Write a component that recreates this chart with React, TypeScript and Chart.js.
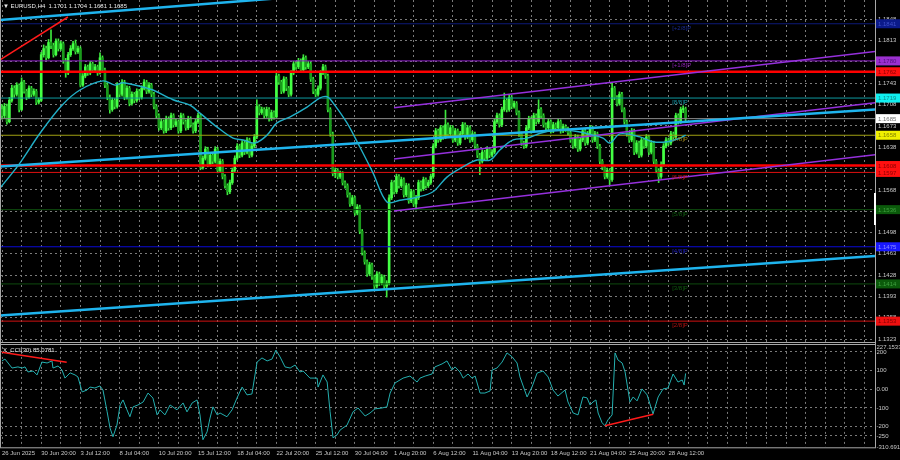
import React, { useEffect, useRef } from 'react';
import { Chart, registerables } from 'chart.js';

Chart.register(...registerables);

// ---------- data ----------
const dateLabels = ['26 Jun 2025', '30 Jun 20:00', '3 Jul 12:00', '8 Jul 04:00', '10 Jul 20:00', '15 Jul 12:00', '18 Jul 04:00', '22 Jul 20:00', '25 Jul 12:00', '30 Jul 04:00', '1 Aug 20:00', '6 Aug 12:00', '11 Aug 04:00', '13 Aug 20:00', '18 Aug 12:00', '21 Aug 04:00', '25 Aug 20:00', '28 Aug 12:00'];
const barsPerLabel = 16;
const barsPerGrid = 8;

const priceTicks = [1.1323, 1.1358, 1.1393, 1.1428, 1.1463, 1.1498, 1.1533, 1.1568, 1.1603, 1.1638, 1.1673, 1.1708, 1.1743, 1.1778, 1.1813, 1.1848];
const cciTicks = [-310.691, -250, -200, -100, 0, 100, 200, 227.1533];

// H4 candles [open, high, low, close]
const candles = [
  [1.1700,1.1708,1.1684,1.1690],[1.1690,1.1710,1.1686,1.1705],[1.1705,1.1709,1.1676,1.1680],[1.1680,1.1720,1.1678,1.1715],[1.1715,1.1740,1.1712,1.1735],
  [1.1735,1.1739,1.1720,1.1725],[1.1725,1.1744,1.1722,1.1740],[1.1740,1.1742,1.1696,1.1700],[1.1700,1.1752,1.1698,1.1745],[1.1745,1.1748,1.1727,1.1730],
  [1.1730,1.1733,1.1716,1.1720],[1.1720,1.1739,1.1718,1.1735],[1.1735,1.1738,1.1721,1.1725],[1.1725,1.1734,1.1722,1.1730],[1.1730,1.1733,1.1708,1.1712],
  [1.1712,1.1719,1.1709,1.1715],[1.1715,1.1794,1.1713,1.1790],[1.1790,1.1806,1.1786,1.1800],[1.1800,1.1804,1.1781,1.1785],[1.1785,1.1815,1.1783,1.1810],
  [1.1810,1.1831,1.1800,1.1805],[1.1805,1.1809,1.1786,1.1790],[1.1790,1.1816,1.1788,1.1812],[1.1812,1.1816,1.1796,1.1800],[1.1800,1.1812,1.1797,1.1808],
  [1.1808,1.1811,1.1776,1.1780],[1.1780,1.1784,1.1753,1.1760],[1.1760,1.1794,1.1757,1.1790],[1.1790,1.1805,1.1787,1.1800],[1.1800,1.1812,1.1797,1.1808],
  [1.1808,1.1814,1.1791,1.1795],[1.1795,1.1804,1.1792,1.1800],[1.1800,1.1803,1.1737,1.1740],[1.1740,1.1759,1.1738,1.1755],[1.1755,1.1774,1.1752,1.1770],
  [1.1770,1.1773,1.1756,1.1760],[1.1760,1.1779,1.1757,1.1775],[1.1775,1.1778,1.1761,1.1765],[1.1765,1.1774,1.1762,1.1770],[1.1770,1.1773,1.1756,1.1760],
  [1.1760,1.1793,1.1758,1.1785],[1.1785,1.1788,1.1761,1.1765],[1.1765,1.1768,1.1736,1.1740],[1.1740,1.1744,1.1716,1.1720],[1.1720,1.1724,1.1694,1.1700],
  [1.1700,1.1719,1.1697,1.1715],[1.1715,1.1718,1.1701,1.1705],[1.1705,1.1744,1.1702,1.1740],[1.1740,1.1743,1.1721,1.1725],[1.1725,1.1749,1.1722,1.1745],
  [1.1745,1.1748,1.1716,1.1720],[1.1720,1.1739,1.1717,1.1735],[1.1735,1.1738,1.1706,1.1710],[1.1710,1.1729,1.1707,1.1725],[1.1725,1.1728,1.1711,1.1715],
  [1.1715,1.1734,1.1712,1.1730],[1.1730,1.1733,1.1716,1.1720],[1.1720,1.1739,1.1717,1.1735],[1.1735,1.1749,1.1732,1.1745],[1.1745,1.1748,1.1726,1.1730],
  [1.1730,1.1744,1.1727,1.1740],[1.1740,1.1743,1.1721,1.1725],[1.1725,1.1728,1.1701,1.1705],[1.1705,1.1708,1.1686,1.1690],[1.1690,1.1693,1.1666,1.1670],
  [1.1670,1.1684,1.1667,1.1680],[1.1680,1.1683,1.1661,1.1665],[1.1665,1.1689,1.1662,1.1685],[1.1685,1.1688,1.1666,1.1670],[1.1670,1.1694,1.1667,1.1690],
  [1.1690,1.1693,1.1671,1.1675],[1.1675,1.1684,1.1672,1.1680],[1.1680,1.1683,1.1661,1.1665],[1.1665,1.1694,1.1662,1.1690],[1.1690,1.1693,1.1676,1.1680],
  [1.1680,1.1683,1.1666,1.1670],[1.1670,1.1689,1.1667,1.1685],[1.1685,1.1688,1.1671,1.1675],[1.1675,1.1678,1.1661,1.1665],[1.1665,1.1684,1.1662,1.1680],
  [1.1680,1.1694,1.1677,1.1690],[1.1690,1.1693,1.1601,1.1605],[1.1605,1.1624,1.1602,1.1620],[1.1620,1.1639,1.1617,1.1635],[1.1635,1.1638,1.1606,1.1610],
  [1.1610,1.1629,1.1607,1.1625],[1.1625,1.1628,1.1611,1.1615],[1.1615,1.1639,1.1612,1.1635],[1.1635,1.1638,1.1596,1.1600],[1.1600,1.1619,1.1597,1.1615],
  [1.1615,1.1618,1.1586,1.1590],[1.1590,1.1593,1.1571,1.1575],[1.1575,1.1578,1.1560,1.1565],[1.1565,1.1584,1.1562,1.1580],[1.1580,1.1604,1.1577,1.1600],
  [1.1600,1.1624,1.1597,1.1620],[1.1620,1.1644,1.1617,1.1640],[1.1640,1.1643,1.1621,1.1625],[1.1625,1.1649,1.1622,1.1645],[1.1645,1.1648,1.1626,1.1630],
  [1.1630,1.1654,1.1627,1.1650],[1.1650,1.1653,1.1621,1.1625],[1.1625,1.1644,1.1622,1.1640],[1.1640,1.1659,1.1637,1.1655],[1.1655,1.1716,1.1652,1.1705],
  [1.1705,1.1708,1.1691,1.1695],[1.1695,1.1704,1.1692,1.1700],[1.1700,1.1703,1.1686,1.1690],[1.1690,1.1704,1.1687,1.1700],[1.1700,1.1703,1.1681,1.1685],
  [1.1685,1.1699,1.1682,1.1695],[1.1695,1.1698,1.1684,1.1688],[1.1688,1.1760,1.1686,1.1755],[1.1755,1.1758,1.1741,1.1745],[1.1745,1.1748,1.1726,1.1730],
  [1.1730,1.1754,1.1727,1.1750],[1.1750,1.1753,1.1731,1.1735],[1.1735,1.1738,1.1721,1.1725],[1.1725,1.1764,1.1722,1.1760],[1.1760,1.1779,1.1757,1.1775],
  [1.1775,1.1778,1.1766,1.1770],[1.1770,1.1784,1.1767,1.1780],[1.1780,1.1783,1.1761,1.1765],[1.1765,1.1790,1.1762,1.1785],[1.1785,1.1788,1.1766,1.1770],
  [1.1770,1.1779,1.1767,1.1775],[1.1775,1.1778,1.1746,1.1750],[1.1750,1.1753,1.1726,1.1730],[1.1730,1.1733,1.1721,1.1725],[1.1725,1.1739,1.1722,1.1735],
  [1.1735,1.1764,1.1732,1.1760],[1.1760,1.1774,1.1757,1.1770],[1.1770,1.1773,1.1751,1.1755],[1.1755,1.1758,1.1696,1.1700],[1.1700,1.1703,1.1656,1.1660],
  [1.1660,1.1663,1.1591,1.1595],[1.1595,1.1604,1.1588,1.1600],[1.1600,1.1603,1.1586,1.1590],[1.1590,1.1599,1.1587,1.1595],[1.1595,1.1598,1.1576,1.1580],
  [1.1580,1.1583,1.1571,1.1575],[1.1575,1.1578,1.1556,1.1560],[1.1560,1.1563,1.1541,1.1545],[1.1545,1.1559,1.1542,1.1555],[1.1555,1.1558,1.1526,1.1530],
  [1.1530,1.1544,1.1527,1.1540],[1.1540,1.1543,1.1496,1.1500],[1.1500,1.1503,1.1461,1.1465],[1.1465,1.1468,1.1446,1.1450],[1.1450,1.1453,1.1426,1.1430],
  [1.1430,1.1449,1.1427,1.1445],[1.1445,1.1448,1.1421,1.1425],[1.1425,1.1428,1.1406,1.1410],[1.1410,1.1434,1.1407,1.1430],[1.1430,1.1433,1.1411,1.1415],
  [1.1415,1.1429,1.1412,1.1425],[1.1425,1.1428,1.1406,1.1410],[1.1410,1.1419,1.1392,1.1415],[1.1415,1.1560,1.1412,1.1555],[1.1555,1.1584,1.1552,1.1580],
  [1.1580,1.1583,1.1561,1.1565],[1.1565,1.1594,1.1562,1.1590],[1.1590,1.1593,1.1571,1.1575],[1.1575,1.1589,1.1572,1.1585],[1.1585,1.1588,1.1556,1.1560],
  [1.1560,1.1579,1.1557,1.1575],[1.1575,1.1578,1.1546,1.1550],[1.1550,1.1569,1.1547,1.1565],[1.1565,1.1568,1.1541,1.1545],[1.1545,1.1559,1.1535,1.1555],
  [1.1555,1.1584,1.1552,1.1580],[1.1580,1.1583,1.1566,1.1570],[1.1570,1.1589,1.1567,1.1585],[1.1585,1.1588,1.1571,1.1575],[1.1575,1.1584,1.1572,1.1580],
  [1.1580,1.1594,1.1577,1.1590],[1.1590,1.1644,1.1587,1.1640],[1.1640,1.1669,1.1637,1.1665],[1.1665,1.1668,1.1646,1.1650],[1.1650,1.1674,1.1647,1.1670],
  [1.1670,1.1673,1.1651,1.1655],[1.1655,1.1699,1.1652,1.1675],[1.1675,1.1678,1.1656,1.1660],[1.1660,1.1674,1.1657,1.1670],[1.1670,1.1673,1.1646,1.1650],
  [1.1650,1.1669,1.1647,1.1665],[1.1665,1.1668,1.1641,1.1645],[1.1645,1.1664,1.1642,1.1660],[1.1660,1.1679,1.1657,1.1675],[1.1675,1.1678,1.1651,1.1655],
  [1.1655,1.1674,1.1652,1.1670],[1.1670,1.1673,1.1646,1.1650],[1.1650,1.1664,1.1647,1.1660],[1.1660,1.1663,1.1636,1.1640],[1.1640,1.1643,1.1621,1.1625],
  [1.1625,1.1628,1.1593,1.1615],[1.1615,1.1634,1.1612,1.1630],[1.1630,1.1633,1.1616,1.1620],[1.1620,1.1639,1.1617,1.1635],[1.1635,1.1638,1.1621,1.1625],
  [1.1625,1.1634,1.1622,1.1630],[1.1630,1.1684,1.1627,1.1680],[1.1680,1.1694,1.1677,1.1690],[1.1690,1.1693,1.1671,1.1675],[1.1675,1.1704,1.1672,1.1700],
  [1.1700,1.1727,1.1697,1.1715],[1.1715,1.1718,1.1696,1.1700],[1.1700,1.1724,1.1697,1.1720],[1.1720,1.1723,1.1701,1.1705],[1.1705,1.1714,1.1702,1.1710],
  [1.1710,1.1713,1.1691,1.1695],[1.1695,1.1698,1.1656,1.1660],[1.1660,1.1663,1.1641,1.1645],[1.1645,1.1648,1.1636,1.1640],[1.1640,1.1674,1.1637,1.1670],
  [1.1670,1.1689,1.1667,1.1685],[1.1685,1.1688,1.1661,1.1665],[1.1665,1.1694,1.1662,1.1690],[1.1690,1.1693,1.1676,1.1680],[1.1680,1.1716,1.1677,1.1700],
  [1.1700,1.1703,1.1686,1.1690],[1.1690,1.1693,1.1671,1.1675],[1.1675,1.1678,1.1666,1.1670],[1.1670,1.1684,1.1667,1.1680],[1.1680,1.1683,1.1661,1.1665],
  [1.1665,1.1679,1.1662,1.1675],[1.1675,1.1678,1.1666,1.1670],[1.1670,1.1684,1.1667,1.1680],[1.1680,1.1683,1.1661,1.1665],[1.1665,1.1676,1.1662,1.1672],
  [1.1672,1.1675,1.1664,1.1668],[1.1668,1.1671,1.1658,1.1662],[1.1662,1.1665,1.1646,1.1650],[1.1650,1.1653,1.1636,1.1640],[1.1640,1.1659,1.1637,1.1655],
  [1.1655,1.1658,1.1631,1.1635],[1.1635,1.1654,1.1632,1.1650],[1.1650,1.1669,1.1647,1.1665],[1.1665,1.1668,1.1641,1.1645],[1.1645,1.1664,1.1642,1.1660],
  [1.1660,1.1674,1.1657,1.1670],[1.1670,1.1673,1.1646,1.1650],[1.1650,1.1664,1.1647,1.1660],[1.1660,1.1663,1.1636,1.1640],[1.1640,1.1643,1.1611,1.1615],
  [1.1615,1.1618,1.1601,1.1605],[1.1605,1.1608,1.1586,1.1590],[1.1590,1.1604,1.1587,1.1600],[1.1600,1.1603,1.1576,1.1585],[1.1585,1.1743,1.1582,1.1735],
  [1.1735,1.1738,1.1716,1.1720],[1.1720,1.1723,1.1706,1.1710],[1.1710,1.1729,1.1707,1.1725],[1.1725,1.1728,1.1696,1.1700],[1.1700,1.1703,1.1676,1.1680],
  [1.1680,1.1683,1.1656,1.1660],[1.1660,1.1663,1.1646,1.1650],[1.1650,1.1669,1.1647,1.1665],[1.1665,1.1668,1.1626,1.1630],[1.1630,1.1649,1.1627,1.1645],
  [1.1645,1.1648,1.1621,1.1625],[1.1625,1.1654,1.1622,1.1650],[1.1650,1.1653,1.1636,1.1640],[1.1640,1.1659,1.1637,1.1655],[1.1655,1.1658,1.1626,1.1630],
  [1.1630,1.1649,1.1627,1.1645],[1.1645,1.1648,1.1611,1.1615],[1.1615,1.1618,1.1596,1.1600],[1.1600,1.1603,1.1580,1.1590],[1.1590,1.1614,1.1587,1.1610],
  [1.1610,1.1644,1.1607,1.1640],[1.1640,1.1654,1.1637,1.1650],[1.1650,1.1653,1.1641,1.1645],[1.1645,1.1664,1.1642,1.1660],[1.1660,1.1663,1.1651,1.1655],
  [1.1655,1.1694,1.1652,1.1690],[1.1690,1.1693,1.1676,1.1680],[1.1680,1.1704,1.1677,1.1700],[1.1700,1.1706,1.1695,1.1701],[1.1701,1.1704,1.1681,1.1685],
];

// moving average (bar index, price)
const maIndex = [-0.8,7.3,15.5,24.5,31.8,41.2,46.1,49.4,59.2,61.6,69.8,76.7,80.8,87.8,94.3,98.4,103.3,108.2,112.2,117.6,124.5,129.8,132.7,135.1,140.8,146.1,151.4,157.1,162.4,169.4,175.9,181.6,188.2,193.9,199.2,203.3,208.6,214.3,219.6,224.9,230.6,235.9,241.2,245.3,248.2,252.2,260.4,265.7,271.4,276.7,279];
const maValues = [1.1571,1.1612,1.1661,1.1707,1.1732,1.1747,1.1740,1.1744,1.1735,1.1732,1.1716,1.1707,1.1694,1.1671,1.1653,1.1650,1.1645,1.1658,1.1678,1.1688,1.1704,1.1719,1.1721,1.1711,1.1678,1.1638,1.1596,1.1548,1.1551,1.1556,1.1565,1.1589,1.1606,1.1617,1.1617,1.1634,1.1650,1.1653,1.1661,1.1666,1.1666,1.1663,1.1658,1.1653,1.1645,1.1660,1.1655,1.1647,1.1647,1.1653,1.1658];

// X_CCI(30) (bar index, value)
const cciIndex = [0,1.2,4.1,6.5,8.2,9.4,10.6,12.7,14.3,16.3,18.4,20.4,20.8,22.9,24.5,25.7,27.8,29.8,31,32.7,34.7,35.9,37.9,40,41.2,42.9,44.1,45.3,46.9,48.2,49.4,51,52.2,53.5,55.5,57.6,59.6,61.6,63.3,64.5,66.5,68.6,71.4,73.9,75.5,77.6,79.6,80.8,82,83.7,84.9,86.1,87.8,89,91.8,93.9,95.9,98,100,102,104.1,106.1,108.2,110.2,111.8,113.5,115.5,117.6,119.6,121.6,122.9,125.7,128.6,129,131,132.7,133.9,135.1,136.7,138,140.8,143.3,145.3,148.2,150.2,152.2,155.1,157.1,158.4,160.4,163.7,166.5,169.4,170.6,172.7,175.5,176.7,179.6,181.6,183.7,184.9,186.9,188.2,190.2,191.8,193.1,195.1,197.1,199.2,200,202,204.1,206.1,208.2,210.2,211.4,214.3,216.3,218.4,220.8,222.9,224.9,226.9,229.8,231,233.1,235.1,237.1,238.8,240,241.2,242.4,243.3,244.9,246.1,247.3,249,250.2,251.4,253.1,254.3,256.3,257.6,259.2,261.2,263.3,265.7,267.8,269.8,271.8,273.9,275.9,277.6,278.4,279];
const cciValues = [152,162,114,120,114,120,93,98,77,146,141,152,114,125,103,60,88,77,66,-14,-4,12,7,18,-4,-120,-208,-254,-192,-84,-57,-110,-147,-94,-84,-68,-20,-47,-137,-110,-137,-84,-110,-73,-121,-73,-57,-137,-270,-228,-154,-94,-137,-127,-147,-110,-47,12,-30,-25,146,168,152,162,210,173,120,114,130,93,98,60,60,12,77,39,-120,-260,-245,-218,-192,-120,-100,-143,-127,-105,-100,-94,-20,34,60,71,39,60,71,82,120,136,152,103,120,93,60,82,60,71,-20,-20,-9,103,114,146,195,174,141,66,-41,12,87,98,66,-4,-36,-4,-68,-127,-137,-41,-46,-84,-68,-57,-127,-179,-195,-164,-137,195,157,141,93,-68,-41,-62,2,-30,-132,-41,2,7,82,39,50,23,85];

// Murrey math levels
const murreyLevels = [1.18408, 1.17798, 1.17188, 1.16577, 1.15967, 1.15356, 1.14746, 1.14136, 1.13525];
const murreyNames = ['[+2/8]P', '[+1/8]P', '[8/8]P', '[7/8]P', '[6/8]P', '[5/8]P', '[4/8]P', '[3/8]P', '[2/8]P'];
const murreyLabelBar = 273.5;
// support / resistance and current price
const srLevels = [1.1762, 1.1608];
const currentPrice = 1.1685;

// trend lines [bar1, value1, bar2, value2]
const blueTrends = [[-0.82, 1.1847, 356.3, 1.19591], [-0.82, 1.16064, 356.3, 1.16999], [-0.82, 1.13618, 356.3, 1.14595]];
const purpleChannel = [[160, 1.1703, 356.3, 1.17954], [160, 1.16188, 356.3, 1.17112], [160, 1.15334, 356.3, 1.16258]];
const redPriceTrend = [-0.82, 1.17813, 26.9, 1.18519];
const redCciTrends = [[-0.1, 198, 26.4, 145], [246.1, -195, 265.8, -134]];

// ---------- styles ----------
const X_MIN = -0.82;
const X_MAX = 356.3;
const P_MIN = 1.13166;
const P_MAX = 1.18798;
const FONT = '"Liberation Sans", Arial, sans-serif';
const GRID = '#7a7a7a';
const TXT = '#c8c8c8';
const murreyLineColors = ['#0d1a78', '#8e1fc8', '#0e9aa0', '#a0a012', '#e01010', '#0e4a0e', '#0a0ad8', '#0e4a0e', '#d01010'];
const murreyBoxBg = ['#0b1a8a', '#9b30d0', '#10f0f0', '#f0f000', '#ff1010', '#0b5a0b', '#1818ff', '#0b5a0b', '#ee1010'];
const murreyBoxFg = ['#4050c8', '#50107a', '#108888', '#808000', '#8a0000', '#40a040', '#9090ff', '#40a040', '#800000'];
const murreyTextColors = ['#1a2a90', '#8a20b0', '#189aa8', '#a08a18', '#c01818', '#0f5a0f', '#2020c0', '#0f5a0f', '#b01010'];

const seg = (x1: number, y1: number, x2: number, y2: number, color: string, width: number, order: number, yAxisID = 'y') => ({
  type: 'line' as const,
  data: [{ x: x1, y: y1 }, { x: x2, y: y2 }],
  borderColor: color,
  borderWidth: width,
  pointRadius: 0,
  fill: false,
  tension: 0,
  order,
  yAxisID,
});

const gridTicks = () => {
  const t: { value: number }[] = [];
  for (let v = 0; v <= X_MAX; v += barsPerGrid) t.push({ value: v });
  return t;
};

const zeroPad = (s: any) => {
  s.paddingLeft = 0; s.paddingRight = 0; s.paddingTop = 0; s.paddingBottom = 0;
};

const mainDecor = {
  id: 'mainDecor',
  afterDatasetsDraw(chart: any) {
    const { ctx, scales } = chart;
    const x = scales.x, y = scales.y;
    ctx.save();
    ctx.font = '6px ' + FONT;
    ctx.textBaseline = 'middle';
    ctx.textAlign = 'left';
    murreyLevels.forEach((v, k) => {
      ctx.fillStyle = murreyTextColors[k];
      ctx.fillText(murreyNames[k], x.getPixelForValue(murreyLabelBar), y.getPixelForValue(v) + 4.5);
    });
    ctx.restore();
  },
  afterDraw(chart: any) {
    const { ctx, scales, chartArea } = chart;
    const y = scales.y;
    ctx.save();
    // price boxes
    const boxes: [number, string, string][] = [];
    murreyLevels.forEach((v, k) => boxes.push([v, murreyBoxBg[k], murreyBoxFg[k]]));
    srLevels.forEach((v) => boxes.push([v, '#ff1010', '#8a0000']));
    boxes.push([currentPrice, '#ffffff', '#707070']);
    ctx.font = '6px ' + FONT;
    ctx.textBaseline = 'middle';
    ctx.textAlign = 'left';
    boxes.forEach(([v, bg, fg]) => {
      const py = y.getPixelForValue(v);
      ctx.fillStyle = bg;
      ctx.fillRect(chartArea.right + 1, py - 4.5, 24, 9);
      ctx.fillStyle = fg;
      ctx.fillText(v.toFixed(4), chartArea.right + 3, py + 0.5);
    });
    // frame
    ctx.strokeStyle = '#a8a8a8';
    ctx.lineWidth = 1;
    ctx.beginPath();
    ctx.moveTo(chartArea.right + 0.5, 0); ctx.lineTo(chartArea.right + 0.5, 346);
    ctx.moveTo(0.5, 0); ctx.lineTo(0.5, 346);
    ctx.moveTo(0, 342.5); ctx.lineTo(chartArea.right + 1, 342.5);
    ctx.moveTo(0, 344.5); ctx.lineTo(chartArea.right + 1, 344.5);
    ctx.stroke();
    ctx.fillStyle = '#ffffff';
    ctx.fillRect(chartArea.right - 1, 193, 2, 32);
    ctx.restore();
  },
};

const cciDecor = {
  id: 'cciDecor',
  afterDraw(chart: any) {
    const { ctx, chartArea } = chart;
    ctx.save();
    ctx.strokeStyle = '#a8a8a8';
    ctx.lineWidth = 1;
    ctx.beginPath();
    ctx.moveTo(chartArea.right + 0.5, 8); ctx.lineTo(chartArea.right + 0.5, chartArea.bottom + 0.5);
    ctx.moveTo(0.5, 8); ctx.lineTo(0.5, chartArea.bottom + 0.5);
    ctx.moveTo(0, chartArea.bottom + 0.5); ctx.lineTo(chartArea.right + 1, chartArea.bottom + 0.5);
    ctx.stroke();
    ctx.restore();
  },
};

export default function App() {
  const mainRef = useRef<HTMLCanvasElement>(null);
  const cciRef = useRef<HTMLCanvasElement>(null);

  useEffect(() => {
    document.body.style.margin = '0';
    document.body.style.background = '#000';
    Chart.defaults.font.family = FONT;

    const wicks = candles.map((c, i) => ({ x: i, y: [c[2], c[1]] }));
    const bodies = candles.map((c, i) => ({ x: i, y: [Math.min(c[0], c[3]), Math.max(c[0], c[3])] }));
    const bodyColors = candles.map((c) => (c[3] >= c[0] ? '#44ff44' : '#1a9a1c'));

    const datasets: any[] = [
      { type: 'bar', data: wicks, backgroundColor: '#3ee83e', barThickness: 1, grouped: false, borderWidth: 0, order: 100 },
      { type: 'bar', data: bodies, backgroundColor: bodyColors, barThickness: 2, grouped: false, borderWidth: 0, minBarLength: 1, order: 99 },
    ];
    murreyLevels.forEach((v, k) => datasets.push(seg(X_MIN, v, X_MAX, v, murreyLineColors[k], 1, 60)));
    datasets.push(seg(X_MIN, currentPrice, X_MAX, currentPrice, '#8c8c8c', 1, 59));
    srLevels.forEach((v) => datasets.push(seg(X_MIN, v, X_MAX, v, '#ff0000', 2.5, 58)));
    purpleChannel.forEach((l) => datasets.push(seg(l[0], l[1], l[2], l[3], '#9530dc', 1.5, 40)));
    blueTrends.forEach((l) => datasets.push(seg(l[0], l[1], l[2], l[3], '#1fb4ee', 2.5, 35)));
    datasets.push(seg(redPriceTrend[0], redPriceTrend[1], redPriceTrend[2], redPriceTrend[3], '#ff1a1a', 1.5, 30));
    datasets.push({
      type: 'line',
      data: maIndex.map((v, k) => ({ x: v, y: maValues[k] })),
      borderColor: '#22b0c8',
      borderWidth: 1.4,
      pointRadius: 0,
      tension: 0.35,
      fill: false,
      order: 10,
    });

    const main = new Chart(mainRef.current!, {
      type: 'bar',
      data: { datasets },
      plugins: [mainDecor],
      options: {
        responsive: false,
        animation: false,
        events: [],
        layout: { padding: 0 },
        plugins: { legend: { display: false }, tooltip: { enabled: false }, title: { display: false } },
        scales: {
          x: {
            type: 'linear',
            min: X_MIN,
            max: X_MAX,
            offset: false,
            afterBuildTicks: (s: any) => { s.ticks = gridTicks(); },
            afterFit: (s: any) => { s.height = 3; zeroPad(s); },
            ticks: { display: false },
            grid: { color: GRID, offset: false, drawTicks: false, lineWidth: 1 },
            border: { display: false, dash: [2, 3] },
          },
          y: {
            type: 'linear',
            position: 'right',
            min: P_MIN,
            max: P_MAX,
            beginAtZero: false,
            afterBuildTicks: (s: any) => { s.ticks = priceTicks.map((v) => ({ value: v })); },
            afterFit: (s: any) => { s.width = 25; zeroPad(s); },
            ticks: { color: TXT, font: { size: 6, family: FONT }, padding: 3, autoSkip: false, callback: (v: any) => Number(v).toFixed(4) },
            grid: { color: GRID, drawTicks: false, lineWidth: 1 },
            border: { display: false, dash: [2, 3] },
          },
        },
      } as any,
    });

    const cciMin = cciTicks[0];
    const cciMax = cciTicks[cciTicks.length - 1];
    const cciDatasets: any[] = [
      {
        type: 'line',
        data: cciIndex.map((v, k) => ({ x: v, y: cciValues[k] })),
        borderColor: '#24b0b0',
        borderWidth: 1,
        pointRadius: 0,
        tension: 0,
        fill: false,
        order: 20,
      },
    ];
    redCciTrends.forEach((l) => cciDatasets.push(seg(l[0], l[1], l[2], l[3], '#ff1a1a', 1.5, 10)));

    const cci = new Chart(cciRef.current!, {
      type: 'line',
      data: { datasets: cciDatasets },
      plugins: [cciDecor],
      options: {
        responsive: false,
        animation: false,
        events: [],
        layout: { padding: { top: 8.9, left: 0, right: 0, bottom: 0 } },
        plugins: { legend: { display: false }, tooltip: { enabled: false } },
        scales: {
          x: {
            type: 'linear',
            min: X_MIN,
            max: X_MAX,
            afterBuildTicks: (s: any) => { s.ticks = gridTicks(); },
            afterFit: (s: any) => { s.height = 12.7; zeroPad(s); },
            ticks: {
              color: TXT,
              font: { size: 6, family: FONT },
              align: 'start',
              autoSkip: false,
              maxRotation: 0,
              padding: 2.5,
              callback: (v: any) => {
                const n = Number(v);
                if (n % barsPerLabel !== 0) return '';
                const k = n / barsPerLabel;
                return k < dateLabels.length ? dateLabels[k] : '';
              },
            },
            grid: { color: GRID, drawTicks: false, lineWidth: 1 },
            border: { display: false, dash: [2, 3] },
          },
          y: {
            type: 'linear',
            position: 'right',
            min: cciMin,
            max: cciMax,
            afterBuildTicks: (s: any) => { s.ticks = cciTicks.map((v) => ({ value: v })); },
            afterFit: (s: any) => { s.width = 25; zeroPad(s); },
            ticks: {
              color: TXT,
              font: { size: 6, family: FONT },
              padding: 1.5,
              autoSkip: false,
              callback: (v: any) => {
                const n = Number(v);
                if (n === cciMax) return '227.1533';
                if (n === cciMin) return '-310.691';
                if (n === 0) return '0.00';
                return String(n);
              },
            },
            grid: {
              color: (c: any) => (c.tick && (c.tick.value === cciMin || c.tick.value === cciMax) ? 'rgba(0,0,0,0)' : GRID),
              drawTicks: false,
              lineWidth: 1,
            },
            border: { display: false, dash: [2, 3] },
          },
        },
      } as any,
    });

    return () => {
      main.destroy();
      cci.destroy();
    };
  }, []);

  const textStyle: React.CSSProperties = {
    position: 'absolute',
    color: '#e8e8e8',
    font: '6px "Liberation Sans", Arial, sans-serif',
    whiteSpace: 'pre',
    lineHeight: '7px',
  };

  return (
    <div style={{ position: 'relative', width: 900, height: 460, background: '#000', overflow: 'hidden' }}>
      <canvas ref={mainRef} width={900} height={346} style={{ position: 'absolute', left: 0, top: 0, width: 900, height: 346 }} />
      <canvas ref={cciRef} width={900} height={122} style={{ position: 'absolute', left: 0, top: 338, width: 900, height: 122 }} />
      <div style={{ ...textStyle, left: 3, top: 3 }}>{'▼ EURUSD,H4  1.1701 1.1704 1.1681 1.1685'}</div>
      <div style={{ ...textStyle, left: 3, top: 347 }}>{'X_CCI(30) 85.0781'}</div>
    </div>
  );
}
